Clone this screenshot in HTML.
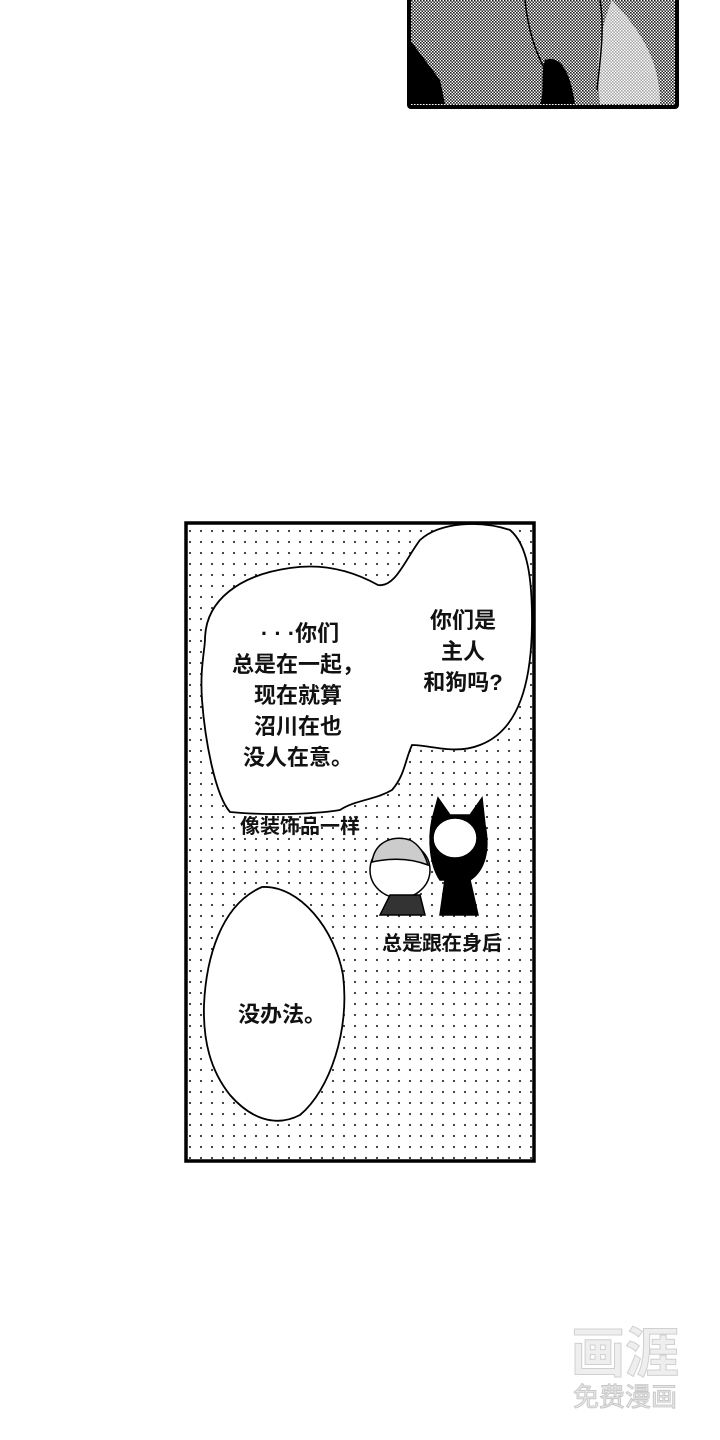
<!DOCTYPE html>
<html><head><meta charset="utf-8"><style>
html,body{margin:0;padding:0;background:#fff;}
svg{display:block}
text{font-family:"Liberation Sans","Noto Sans CJK SC",sans-serif;}
</style></head><body>
<svg width="720" height="1440" viewBox="0 0 720 1440" xmlns="http://www.w3.org/2000/svg">
<defs>
<pattern id="dots" width="11" height="11" patternUnits="userSpaceOnUse">
<circle cx="3" cy="3" r="1.1" fill="#333"/>
</pattern>
<pattern id="half" width="3" height="3" patternUnits="userSpaceOnUse">
<rect width="3" height="3" fill="#fff"/><rect width="1.6" height="1.6" fill="#222"/><rect x="1.5" y="1.5" width="1.5" height="1.5" fill="#222"/>
</pattern>
</defs>
<rect x="409" y="-5" width="268" height="112" fill="url(#half)" stroke="#000" stroke-width="4" rx="2"/>
<path d="M612 0 C640 30 660 60 660 104 L600 104 C595 60 600 30 612 0Z" fill="#fff" opacity="0.6"/>
<path d="M410 40 L440 80 L445 104 L410 104Z" fill="#000"/>
<path d="M545 60 C560 55 570 70 575 104 L540 104 C545 90 540 75 545 60Z" fill="#000"/>
<path d="M525 0 C528 30 535 50 545 70" stroke="#000" stroke-width="1.5" fill="none"/>
<path d="M600 0 C605 30 600 60 597 90" stroke="#000" stroke-width="1.5" fill="none"/>

<rect x="186" y="523" width="348" height="638" fill="#fff"/>
<rect x="186" y="523" width="348" height="638" fill="url(#dots)"/>
<path d="M205 640 C205 600 240 575 290 568 C330 562 360 575 378 585 C395 588 405 560 420 540 C440 522 480 520 510 530 C528 545 532 580 532 620 C532 680 520 730 480 745 C455 755 430 745 412 745 C405 760 405 775 392 790 C375 800 355 800 340 810 C310 815 260 815 230 812 C215 795 205 740 202 700 C200 670 204 655 205 640Z" fill="#fff" stroke="#000" stroke-width="1.8"/>
<path d="M262 887 C300 885 335 930 343 975 C350 1030 330 1090 300 1115 C275 1128 250 1118 230 1095 C210 1070 203 1040 204 1005 C206 960 220 905 262 887Z" fill="#fff" stroke="#000" stroke-width="1.8"/>
<g font-size="22" fill="#111" text-anchor="middle" font-weight="bold">
<text x="300" y="641">· · ·你们</text>
<text x="298" y="672">总是在一起，</text>
<text x="298" y="703">现在就算</text>
<text x="298" y="734">沼川在也</text>
<text x="298" y="765">没人在意。</text>
<text x="463" y="628">你们是</text>
<text x="463" y="659">主人</text>
<text x="463" y="690">和狗吗?</text>
<text x="282" y="1022">没办法。</text>
</g>
<g font-size="20" fill="#111" text-anchor="middle" font-weight="bold">
<text x="300" y="833">像装饰品一样</text>
<text x="442" y="950">总是跟在身后</text>
</g>
<g stroke="#000" stroke-width="1.5">
<path d="M432 820 L438 798 L450 815 L470 815 L482 798 L485 825 C490 850 485 870 470 880 L440 880 C430 865 428 840 432 820Z" fill="#000"/>
<ellipse cx="455" cy="838" rx="22" ry="20" fill="#fff"/>
<path d="M445 880 L470 880 L478 915 L440 915Z" fill="#000"/>
<ellipse cx="400" cy="870" rx="30" ry="28" fill="#fff"/>
<path d="M372 862 C375 840 395 835 410 840 C420 845 425 855 428 865 C410 858 390 858 372 862Z" fill="#ccc"/>
<path d="M380 915 L390 895 L420 895 L425 915Z" fill="#333"/>
</g>
<rect x="186" y="523" width="348" height="638" fill="none" stroke="#000" stroke-width="3.5"/>
<g>
<text x="625" y="1372" font-size="54" text-anchor="middle" font-weight="bold" fill="#eee" stroke="#d0d0d0">画涯</text>
<text x="625" y="1406" font-size="26" text-anchor="middle" fill="#eee" stroke="#c8c8c8">免费漫画</text>
</g>
</svg>
</body></html>
